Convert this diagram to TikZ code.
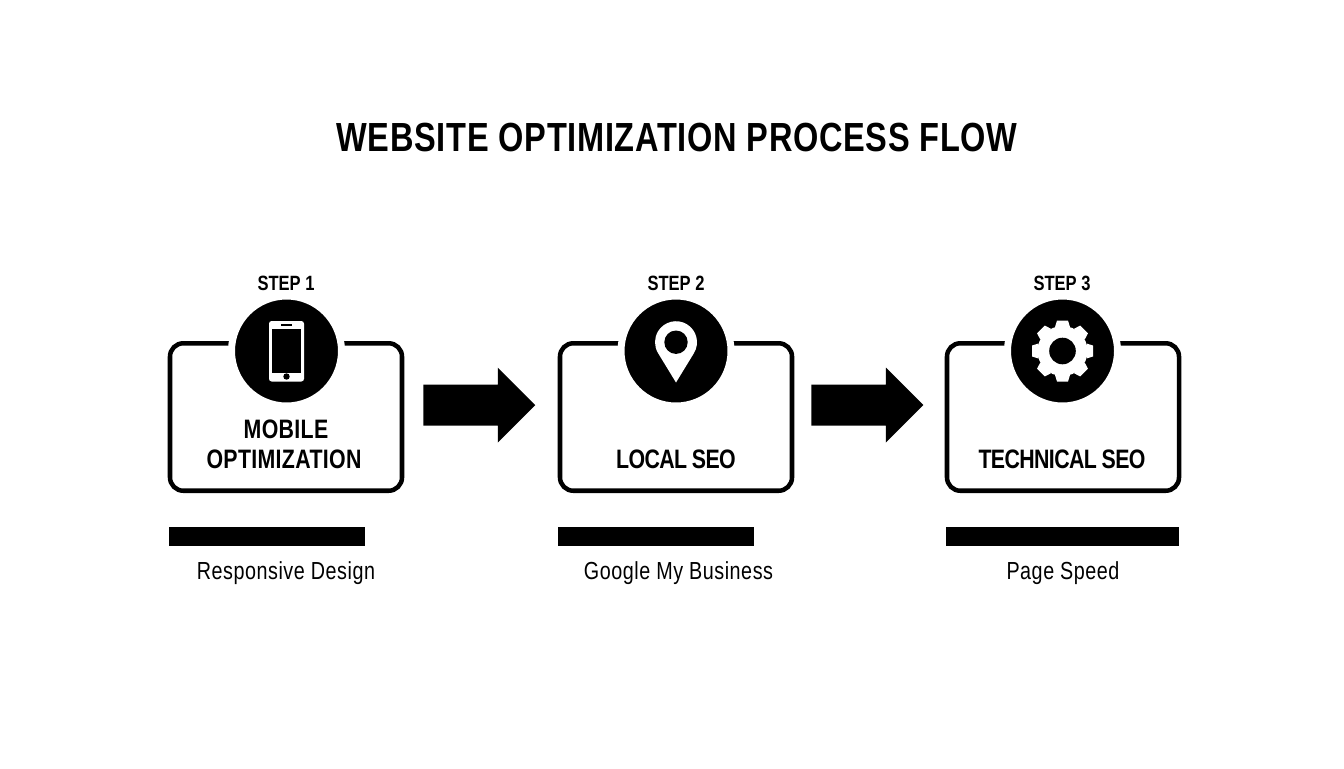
\documentclass[tikz,border=0pt]{standalone}
\usepackage{fontspec}
\setmainfont{Liberation Sans}[FakeStretch=0.8]
\newfontfamily\tightfont{Liberation Sans}[FakeStretch=0.8,WordSpace=0.9]
\usetikzlibrary{shapes.arrows}
\tikzset{every picture/.style={line width=0.75pt}}
\tikzset{
	titletext/.style={anchor=base,inner sep=0pt,font=\bfseries\fontsize{30.5}{30}\selectfont\addfontfeature{LetterSpace=1.7}},
	steptext/.style={anchor=base,inner sep=0pt,font=\bfseries\fontsize{15.5}{16}\selectfont},
	boxtext/.style={anchor=base,inner sep=0pt,font=\bfseries\fontsize{20}{20}\selectfont\addfontfeature{LetterSpace=1.2}},
	boxtight/.style={anchor=base,inner sep=0pt,font=\tightfont\bfseries\fontsize{20}{20}\selectfont\addfontfeature{LetterSpace=-2.3}},
	notetext/.style={anchor=base,inner sep=0pt,font=\fontsize{18.5}{18.5}\selectfont\addfontfeature{LetterSpace=2.2}},
	stepbox/.style={draw,line width=3.4pt,rounded corners=10pt,minimum width=174pt,minimum height=110.6pt,inner sep=0pt},
	iconball/.style={circle,fill=black,draw=white,line width=5.25pt,minimum size=82.5pt,inner sep=0pt},
	notebar/.style={fill=black,minimum height=14pt,inner sep=0pt},
	flowarrow/.style={single arrow,fill=black,minimum height=84pt,inner xsep=0pt,inner ysep=15pt,single arrow head extend=12.75pt}
}
\begin{document}
\begin{tikzpicture}[x=0.75pt,y=0.75pt,yscale=-1,xscale=1]
	\useasboundingbox (0,0) rectangle (1344,768);

	% Text Node
	\node[titletext] (title) at (677,151) {WEBSITE OPTIMIZATION PROCESS FLOW};

	%Shape: Rectangle
	\node[stepbox] (box1) at (286,417) {};
	\node[stepbox] (box2) at (676,417) {};
	\node[stepbox] (box3) at (1063,417) {};

	%Shape: Circle
	\node[iconball] (ball1) at (286.5,351) {};
	\node[iconball] (ball2) at (676,351) {};
	\node[iconball] (ball3) at (1062.5,351) {};

	%Shape: Arrow
	\node[flowarrow] (arrow1) at (469,405) {};
	\node[flowarrow] (arrow2) at (857,405) {};

	%Shape: Rectangle
	\node[notebar,minimum width=147pt] (bar1) at (267,536.5) {};
	\node[notebar,minimum width=147pt] (bar2) at (656,536.5) {};
	\node[notebar,minimum width=175pt] (bar3) at (1062.5,536.5) {};

	% Phone
	\begin{scope}[shift={(ball1.center)}]
		\fill[white,rounded corners=2pt] (-17.5,-30) rectangle (17.5,30.5);
		\fill[black] (-14.5,-22.5) rectangle (14.5,21.5);
		\fill[black] (-5.5,-27) rectangle (5.5,-25.5);
		\fill[black] (0,25.5) circle (3.2);
	\end{scope}

	% Pin
	\begin{scope}[shift={(ball2.center)}]
		\fill[white] (0,31.5) -- ([shift={(31.4:21)}]0,-8.8) arc[start angle=31.4,end angle=-211.4,radius=21] -- cycle;
		\fill[black] (0,-8.8) circle (11.7);
	\end{scope}

	% Gear
	\begin{scope}[shift={(ball3.center)}]
		\fill[white] (0,0) circle (25);
		\foreach \a in {0,45,...,315}
			\fill[white,rotate=\a] (-7.5,-24) -- (-5.5,-30.5) -- (5.5,-30.5) -- (7.5,-24) -- cycle;
		\fill[black] (0,0) circle (13.3);
	\end{scope}

	% Text Node
	\node[steptext] (step1) at (286,290) {STEP 1};
	\node[steptext] (step2) at (676,290) {STEP 2};
	\node[steptext] (step3) at (1062,290) {STEP 3};
	% Text Node
	\node[boxtext] (name1a) at (286,438) {MOBILE};
	\node[boxtext] (name1b) at (284,468) {OPTIMIZATION};
	\node[boxtight] (name2) at (676,468) {LOCAL SEO};
	\node[boxtight] (name3) at (1062,468) {TECHNICAL SEO};
	% Text Node
	\node[notetext] (note1) at (286,579) {Responsive Design};
	\node[notetext] (note2) at (678.5,579) {Google My Business};
	\node[notetext] (note3) at (1063,579) {Page Speed};
\end{tikzpicture}
\end{document}
